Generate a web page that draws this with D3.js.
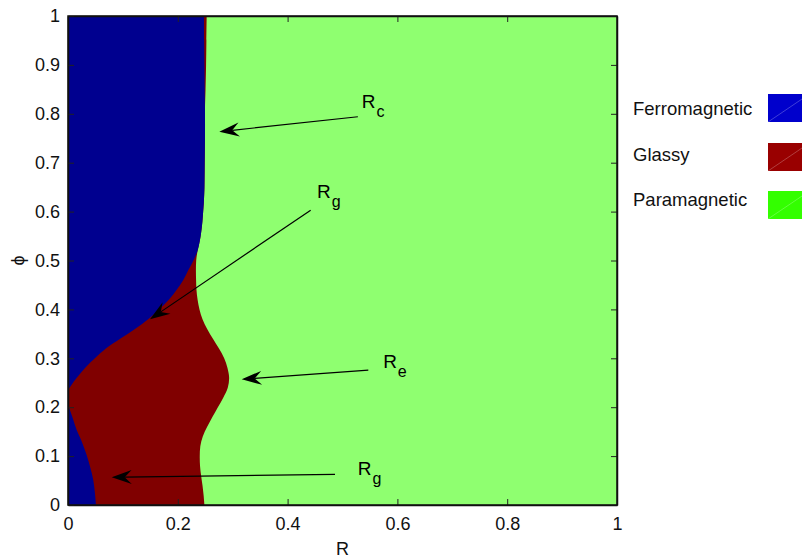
<!DOCTYPE html>
<html><head><meta charset="utf-8">
<script src="https://cdn.jsdelivr.net/npm/d3@7/dist/d3.min.js"></script>
<style>html,body{margin:0;padding:0;background:#fff;}svg{display:block;font-family:"Liberation Sans",Arial,sans-serif;}</style>
</head><body>
<svg id="chart" width="802" height="559"></svg>
<script>
// ---- data ----
const RTicks = [0, 0.2, 0.4, 0.6, 0.8, 1];
const phiTicks = [0, 0.1, 0.2, 0.3, 0.4, 0.5, 0.6, 0.7, 0.8, 0.9, 1];
const RTickLabels = ["0", "0.2", "0.4", "0.6", "0.8", "1"];
const phiTickLabels = ["0", "0.1", "0.2", "0.3", "0.4", "0.5", "0.6", "0.7", "0.8", "0.9", "1"];

// [phi, R] : right edge of the non-paramagnetic region
const paraBoundary = [[1,0.2526],[0.95,0.2521],[0.9,0.2515],[0.85,0.2505],[0.808,0.2495],[0.75,0.2495],[0.7,0.249],[0.65,0.2485],[0.62,0.2475],[0.6,0.2462],[0.58,0.2448],[0.56,0.2428],[0.54,0.24],[0.52,0.236],[0.5,0.2335],[0.48,0.233],[0.46,0.2333],[0.44,0.234],[0.42,0.236],[0.4,0.2395],[0.38,0.245],[0.36,0.2535],[0.34,0.264],[0.32,0.275],[0.3,0.2845],[0.28,0.2905],[0.26,0.2935],[0.24,0.291],[0.22,0.283],[0.2,0.273],[0.18,0.263],[0.16,0.2535],[0.14,0.2455],[0.12,0.241],[0.1,0.24],[0.08,0.2405],[0.06,0.2425],[0.04,0.245],[0.02,0.247],[0,0.2485]];
// [phi, R] : right edge of the upper ferromagnetic region
const ferroUpper = [[1,0.2477],[0.95,0.248],[0.9,0.2485],[0.85,0.249],[0.808,0.2495],[0.75,0.2495],[0.7,0.249],[0.65,0.2485],[0.62,0.2475],[0.6,0.2462],[0.58,0.2448],[0.56,0.2428],[0.54,0.24],[0.52,0.236],[0.5,0.2285],[0.48,0.219],[0.46,0.21],[0.44,0.198],[0.42,0.184],[0.4,0.166],[0.38,0.146],[0.36,0.122],[0.34,0.095],[0.32,0.069],[0.3,0.049],[0.28,0.031],[0.26,0.016],[0.245,0.006],[0.235,0]];
// [phi, R] : right edge of the lower ferromagnetic wedge
const ferroLower = [[0.205,0],[0.18,0.008],[0.153,0.016],[0.13,0.025],[0.102,0.034],[0.075,0.041],[0.051,0.046],[0.025,0.049],[0,0.051]];

const legendLabels = ["Ferromagnetic", "Glassy", "Paramagnetic"];
const regionColors = ["#00008F", "#800000", "#8FFF70"];
const legendColors = ["#0000CC", "#990000", "#33FF00"];

// annotations: label, subscript, label anchor [R,phi], arrow start [R,phi], arrow tip [R,phi]
const annLabels = ["R", "R", "R", "R"];
const annSubs = ["c", "g", "e", "g"];
const annLabelPos = [[0.535,0.812],[0.4536,0.628],[0.574,0.280],[0.528,0.0613]];
const annFrom = [[0.528,0.794],[0.442,0.603],[0.547,0.276],[0.4863,0.0628]];
const annTo = [[0.2756,0.7634],[0.1494,0.380],[0.3164,0.257],[0.0796,0.0566]];

// ---- drawing ----
const svg = d3.select("#chart");
const x = d3.scaleLinear().domain([0,1]).range([68,617]);
const y = d3.scaleLinear().domain([0,1]).range([505,16]);

const plot = svg.append("g");
plot.append("rect").attr("x", x(0)).attr("y", y(1)).attr("width", x(1)-x(0)).attr("height", y(0)-y(1)).attr("fill", regionColors[2]);

const area = d3.area().y(d => y(d[0])).x0(x(0)).x1(d => x(d[1])).curve(d3.curveCatmullRom.alpha(0.5));
plot.append("path").datum(paraBoundary).attr("d", area).attr("fill", regionColors[1]);
plot.append("path").datum(ferroUpper).attr("d", area).attr("fill", regionColors[0]);
plot.append("path").datum(ferroLower).attr("d", area).attr("fill", regionColors[0]);

// axes (box with inward ticks)
const tickLen = 6;
const axB = svg.append("g").attr("transform", `translate(0,${y(0)})`)
  .call(d3.axisBottom(x).tickValues(RTicks).tickFormat((d,i)=>RTickLabels[i]).tickSizeInner(-tickLen).tickSizeOuter(0).tickPadding(12));
const axT = svg.append("g").attr("transform", `translate(0,${y(1)})`)
  .call(d3.axisTop(x).tickValues(RTicks).tickFormat("").tickSizeInner(-tickLen).tickSizeOuter(0));
const axL = svg.append("g").attr("transform", `translate(${x(0)},0)`)
  .call(d3.axisLeft(y).tickValues(phiTicks).tickFormat((d,i)=>phiTickLabels[i]).tickSizeInner(-tickLen).tickSizeOuter(0).tickPadding(8));
const axR = svg.append("g").attr("transform", `translate(${x(1)},0)`)
  .call(d3.axisRight(y).tickValues(phiTicks).tickFormat("").tickSizeInner(-tickLen).tickSizeOuter(0));
[axB, axT, axL, axR].forEach(a => {
  a.select(".domain").attr("stroke", "#111").attr("stroke-width", 1.5);
  a.selectAll(".tick line").attr("stroke", "#222").attr("stroke-width", 1);
  a.selectAll("text").attr("font-size", 18).attr("fill", "#111").attr("font-family", '"Liberation Sans",Arial,sans-serif');
});
// box corners
svg.append("rect").attr("x", x(0)).attr("y", y(1)).attr("width", x(1)-x(0)).attr("height", y(0)-y(1))
  .attr("fill", "none").attr("stroke", "#111").attr("stroke-width", 1.5);

// axis titles
svg.append("text").attr("x", (x(0)+x(1))/2).attr("y", 555).attr("text-anchor", "middle").attr("font-size", 18).attr("fill", "#111").text("R");
svg.append("text").attr("transform", `translate(24,${(y(0)+y(1))/2}) rotate(-90)`).attr("text-anchor", "middle").attr("font-size", 18).attr("fill", "#111").text("ϕ");

// annotations
const ann = svg.append("g");
annLabels.forEach((lab, i) => {
  const x1 = x(annFrom[i][0]), y1 = y(annFrom[i][1]);
  const x2 = x(annTo[i][0]), y2 = y(annTo[i][1]);
  const dx = x2 - x1, dy = y2 - y1, L = Math.hypot(dx, dy);
  const ux = dx / L, uy = dy / L, px = -uy, py = ux;
  const headLen = 20, halfW = 7, notch = 13;
  const bx = x2 - ux*headLen, by = y2 - uy*headLen;
  const nx = x2 - ux*notch, ny = y2 - uy*notch;
  ann.append("line").attr("x1", x1).attr("y1", y1).attr("x2", nx).attr("y2", ny).attr("stroke", "#000").attr("stroke-width", 1.2);
  ann.append("path").attr("d", `M${x2},${y2}L${bx+px*halfW},${by+py*halfW}L${nx},${ny}L${bx-px*halfW},${by-py*halfW}Z`).attr("fill", "#000");
  const t = ann.append("text").attr("x", x(annLabelPos[i][0])).attr("y", y(annLabelPos[i][1])).attr("font-size", 19).attr("fill", "#000");
  t.append("tspan").text(lab);
  t.append("tspan").attr("dx", 1).attr("dy", 9).attr("font-size", 16).text(annSubs[i]);
});

// legend
const leg = svg.append("g");
const legBaselines = [115, 161, 206];
const legRectY = [94, 143, 191];
legendLabels.forEach((lab, i) => {
  leg.append("text").attr("x", 633).attr("y", legBaselines[i]).attr("font-size", 18.5).attr("fill", "#111").text(lab);
  leg.append("rect").attr("x", 768).attr("y", legRectY[i]).attr("width", 34).attr("height", 28).attr("fill", legendColors[i]);
  leg.append("line").attr("x1", 768).attr("y1", legRectY[i]+28).attr("x2", 802).attr("y2", legRectY[i]+5)
    .attr("stroke", "#fff").attr("stroke-opacity", 0.35).attr("stroke-width", 0.7);
});
</script>
</body></html>
